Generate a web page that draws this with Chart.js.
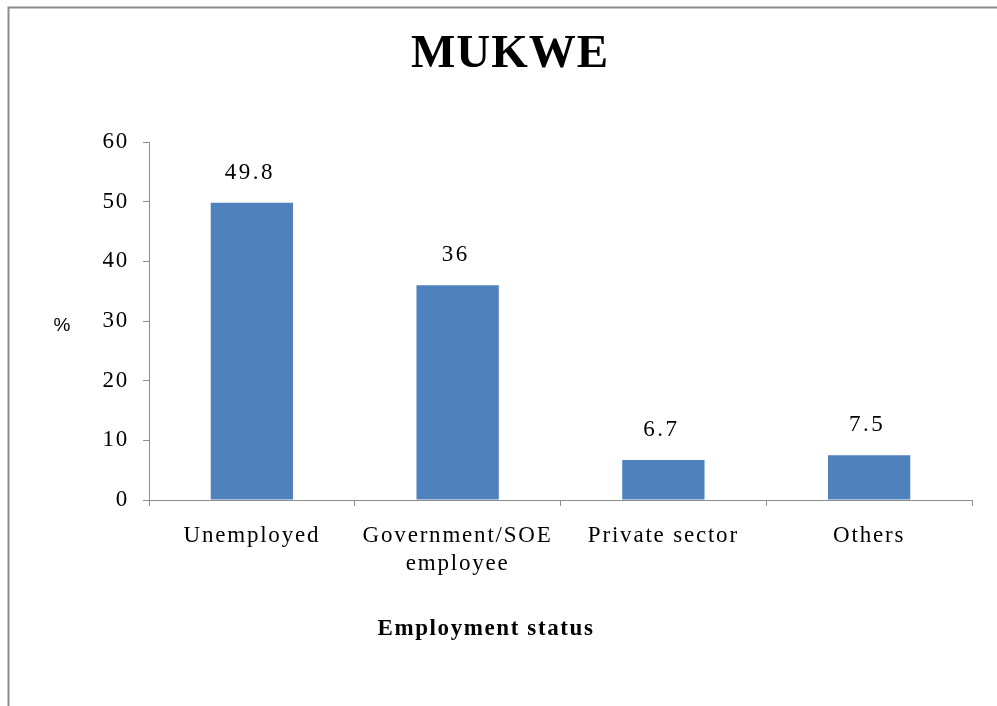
<!DOCTYPE html>
<html>
<head>
<meta charset="utf-8">
<script src="https://cdn.jsdelivr.net/npm/chart.js@4.4.0/dist/chart.umd.min.js"></script>
<style>
html,body{margin:0;padding:0;background:#fff;}
#wrap{position:absolute;left:0;top:0;width:997px;height:706px;}
</style>
</head>
<body>
<div id="wrap"><canvas id="c" width="997" height="706"></canvas></div>
<script>
const categories = [["Unemployed"], ["Government/SOE", "employee"], ["Private sector"], ["Others"]];
const values = [49.8, 36, 6.7, 7.5];
const valueLabels = ["49.8", "36", "6.7", "7.5"];
const yTicks = [0, 10, 20, 30, 40, 50, 60];
const chartTitle = "MUKWE";
const xTitle = "Employment status";
const yTitle = "%";

const SERIF = "'Liberation Serif','Times New Roman',serif";
const SANS = "'Liberation Sans',Arial,sans-serif";

const decor = {
  id: 'decor',
  beforeDraw(chart) {
    const ctx = chart.ctx;
    ctx.save();
    ctx.fillStyle = '#ffffff';
    ctx.fillRect(0, 0, chart.width, chart.height);
    ctx.strokeStyle = '#8c8c8c';
    ctx.lineWidth = 2;
    ctx.beginPath();
    ctx.moveTo(8.5, chart.height);
    ctx.lineTo(8.5, 7.5);
    ctx.lineTo(chart.width, 7.5);
    ctx.stroke();
    ctx.restore();
    ctx.letterSpacing = '1.8px';
  },
  afterDraw(chart) {
    const ctx = chart.ctx;
    ctx.save();
    ctx.fillStyle = '#000';
    ctx.textAlign = 'center';
    ctx.textBaseline = 'middle';
    ctx.letterSpacing = '1px';
    ctx.font = "bold 47px " + SERIF;
    ctx.fillText(chartTitle, 510, 55);
    ctx.letterSpacing = '1.6px';
    ctx.font = "bold 23px " + SERIF;
    ctx.fillText(xTitle, 486, 629);
    ctx.letterSpacing = '0px';
    ctx.font = "19px " + SANS;
    ctx.fillText(yTitle, 62, 326);
    // data labels
    ctx.letterSpacing = '2.5px';
    const meta = chart.getDatasetMeta(0);
    ctx.font = "23px " + SERIF;
    ctx.textBaseline = 'alphabetic';
    meta.data.forEach((bar, i) => {
      ctx.fillText(valueLabels[i], bar.x - 2, bar.y - 24);
    });
    ctx.restore();
    ctx.letterSpacing = '0px';
  }
};

new Chart(document.getElementById('c'), {
  type: 'bar',
  data: {
    labels: categories,
    datasets: [{
      data: values,
      backgroundColor: '#4f81bd',
      borderWidth: 0,
      categoryPercentage: 0.4,
      barPercentage: 1.0
    }]
  },
  options: {
    responsive: false,
    animation: false,
    events: [],
    layout: { padding: { left: 0, top: 142, right: 25, bottom: 0 } },
    plugins: { legend: { display: false }, title: { display: false }, tooltip: { enabled: false } },
    scales: {
      x: {
        offset: true,
        grid: { display: true, offset: true, drawOnChartArea: false, drawTicks: true, tickLength: 6, color: '#8c8c8c', lineWidth: 1 },
        border: { display: true, color: '#8c8c8c', width: 1 },
        ticks: { color: '#000', font: { family: SERIF, size: 23, lineHeight: 1.22 }, padding: 16, maxRotation: 0, autoSkip: false },
        afterFit(s) { s.height = 206; }
      },
      y: {
        min: 0, max: 60,
        afterBuildTicks(s) { s.ticks = yTicks.map(v => ({ value: v })); },
        grid: { display: true, drawOnChartArea: false, drawTicks: true, tickLength: 6, color: '#8c8c8c', lineWidth: 1 },
        border: { display: true, color: '#8c8c8c', width: 1 },
        ticks: { color: '#000', font: { family: SERIF, size: 23 }, padding: 14 },
        afterFit(s) { s.width = 149; }
      }
    }
  },
  plugins: [decor]
});
</script>
</body>
</html>
